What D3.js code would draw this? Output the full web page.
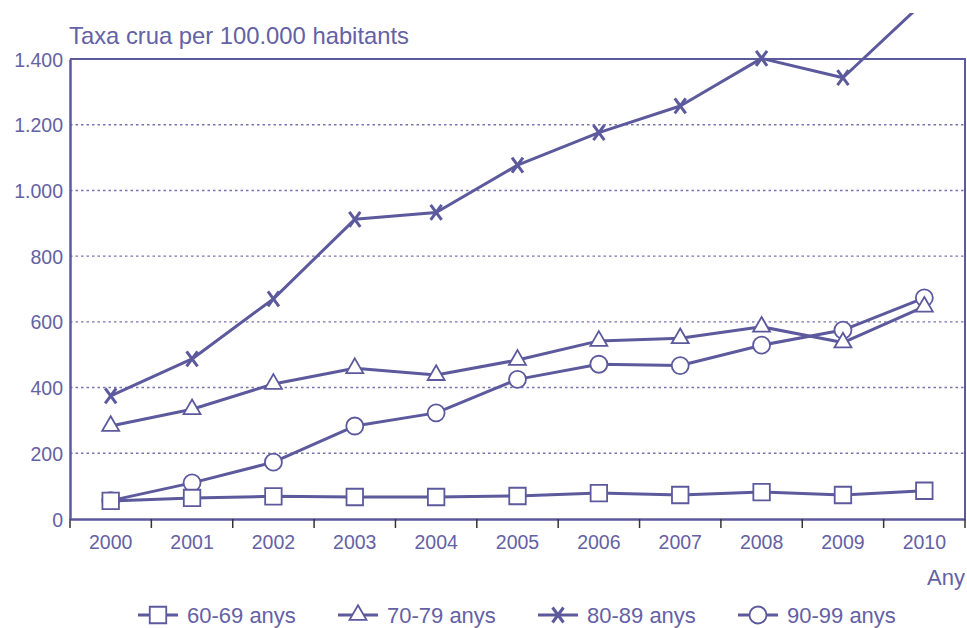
<!DOCTYPE html>
<html>
<head>
<meta charset="utf-8">
<script src="https://cdn.jsdelivr.net/npm/d3@7"></script>
<style>
  body { margin: 0; background: #fff; }
  svg { display: block; }
  text { font-family: "Liberation Sans", Arial, Helvetica, sans-serif; fill: #6461a5; }
</style>
</head>
<body>
<div id="chart"></div>
<script>
// chart data
var years = ["2000","2001","2002","2003","2004","2005","2006","2007","2008","2009","2010"];
var yTicks = [0, 200, 400, 600, 800, 1000, 1200, 1400];
var seriesNames = ["60-69 anys", "70-79 anys", "80-89 anys", "90-99 anys"];
var age60 = [55, 64, 69, 67, 67, 70, 79, 73, 82, 73, 86];
var age70 = [283, 334, 411, 459, 438, 484, 542, 550, 585, 537, 646];
var age80 = [375, 487, 670, 912, 933, 1077, 1176, 1257, 1402, 1343, 1575];
var age90 = [56, 110, 173, 283, 323, 425, 471, 467, 529, 575, 673];
var yTitle = "Taxa crua per 100.000 habitants";
var xTitle = "Any";

var W = 967, H = 628;
var plotLeft = 70, plotRight = 965, plotTop = 59, plotBottom = 519;
var ink = "#5c5a9c";

var svg = d3.select("#chart").append("svg")
    .attr("width", W)
    .attr("height", H);

var x = d3.scaleBand().domain(years).range([plotLeft, plotRight]);
var y = d3.scaleLinear().domain([0, 1400]).range([plotBottom, plotTop]);

// dotted grid
svg.append("g").selectAll("line")
  .data(yTicks.filter(function(t) { return t > 0 && t < 1400; }))
  .enter().append("line")
    .attr("x1", plotLeft).attr("x2", plotRight)
    .attr("y1", function(d) { return y(d); })
    .attr("y2", function(d) { return y(d); })
    .attr("stroke", "#7673b0")
    .attr("stroke-width", 1.4)
    .attr("stroke-dasharray", "2.5,3");

// frame: top and right
svg.append("path")
  .attr("d", "M" + plotLeft + "," + plotTop + "H" + plotRight + "V" + plotBottom)
  .attr("fill", "none")
  .attr("stroke", ink)
  .attr("stroke-width", 2);

// y axis
var yAxis = svg.append("g")
  .attr("transform", "translate(" + plotLeft + ",0)")
  .call(d3.axisLeft(y).tickValues(yTicks).tickSize(0).tickPadding(7)
        .tickFormat(function(d) { return d3.format(",")(d).replace(/,/g, "."); }));
yAxis.select(".domain").attr("stroke", ink).attr("stroke-width", 2.5);
yAxis.selectAll("text").style("font-size", "19.5px").attr("fill", "#6461a5").attr("dy", "0.36em");

// x axis with ticks between categories
var xAxis = svg.append("g")
  .attr("transform", "translate(0," + plotBottom + ")")
  .call(d3.axisBottom(x).tickSize(0).tickPadding(16));
xAxis.select(".domain").attr("stroke", ink).attr("stroke-width", 2.5);
xAxis.selectAll("text").style("font-size", "19.5px").attr("fill", "#6461a5");
var bounds = years.map(function(d) { return x(d); }).concat([plotRight]);
xAxis.selectAll(".sep").data(bounds).enter().append("line")
  .attr("class", "sep")
  .attr("x1", function(d) { return d; }).attr("x2", function(d) { return d; })
  .attr("y1", 0).attr("y2", 9)
  .attr("stroke", "#333")
  .attr("stroke-width", 1.5);

// titles
svg.append("text")
  .attr("x", plotLeft - 1).attr("y", 44)
  .style("font-size", "23.8px")
  .text(yTitle);
svg.append("text")
  .attr("x", plotRight).attr("y", 585)
  .attr("text-anchor", "end")
  .style("font-size", "22px")
  .text(xTitle);

// markers
var shapes = {
  "60-69 anys": function(g) {
    g.append("path").attr("d", d3.symbol(d3.symbolSquare, 272)())
      .attr("fill", "#fff").attr("stroke", ink).attr("stroke-width", 1.8);
  },
  "70-79 anys": function(g) {
    g.append("path").attr("d", d3.symbol(d3.symbolTriangle, 125)())
      .attr("fill", "#fff").attr("stroke", ink).attr("stroke-width", 1.8);
  },
  "80-89 anys": function(g) {
    g.append("path").attr("d", "M-5.5,-7.5L5.5,7.5M-5.5,7.5L5.5,-7.5")
      .attr("fill", "none").attr("stroke", ink).attr("stroke-width", 3);
  },
  "90-99 anys": function(g) {
    g.append("circle").attr("r", 8.5)
      .attr("fill", "#fff").attr("stroke", ink).attr("stroke-width", 1.8);
  }
};

var series = [
  { key: "90-99 anys", values: age90 },
  { key: "80-89 anys", values: age80 },
  { key: "70-79 anys", values: age70 },
  { key: "60-69 anys", values: age60 }
];

svg.append("clipPath").attr("id", "clip")
  .append("rect").attr("x", 0).attr("y", 13).attr("width", W).attr("height", H);

var line = d3.line()
  .x(function(d, i) { return x(years[i]) + x.bandwidth() / 2; })
  .y(function(d) { return y(d); });

var plot = svg.append("g").attr("clip-path", "url(#clip)");
series.forEach(function(s) {
  var g = plot.append("g");
  g.append("path")
    .attr("d", line(s.values))
    .attr("fill", "none")
    .attr("stroke", ink)
    .attr("stroke-width", 3)
    .attr("stroke-linejoin", "round");
  g.selectAll(".pt").data(s.values).enter().append("g")
    .attr("class", "pt")
    .attr("transform", function(d, i) {
      return "translate(" + (x(years[i]) + x.bandwidth() / 2) + "," + y(d) + ")";
    })
    .each(function() { shapes[s.key](d3.select(this)); });
});

// legend
var legend = svg.append("g").attr("transform", "translate(138,615)");
var items = legend.selectAll(".legend-item").data(seriesNames)
  .enter().append("g")
    .attr("class", "legend-item")
    .attr("transform", function(d, i) { return "translate(" + (i * 200) + ",0)"; });
items.append("line")
  .attr("x1", 0).attr("x2", 40)
  .attr("stroke", ink).attr("stroke-width", 3);
items.each(function(d) {
  var m = d3.select(this).append("g").attr("transform", "translate(20,0)");
  shapes[d](m);
});
items.append("text")
  .attr("x", 49).attr("y", 7.5)
  .style("font-size", "22px")
  .text(function(d) { return d; });
</script>
</body>
</html>
